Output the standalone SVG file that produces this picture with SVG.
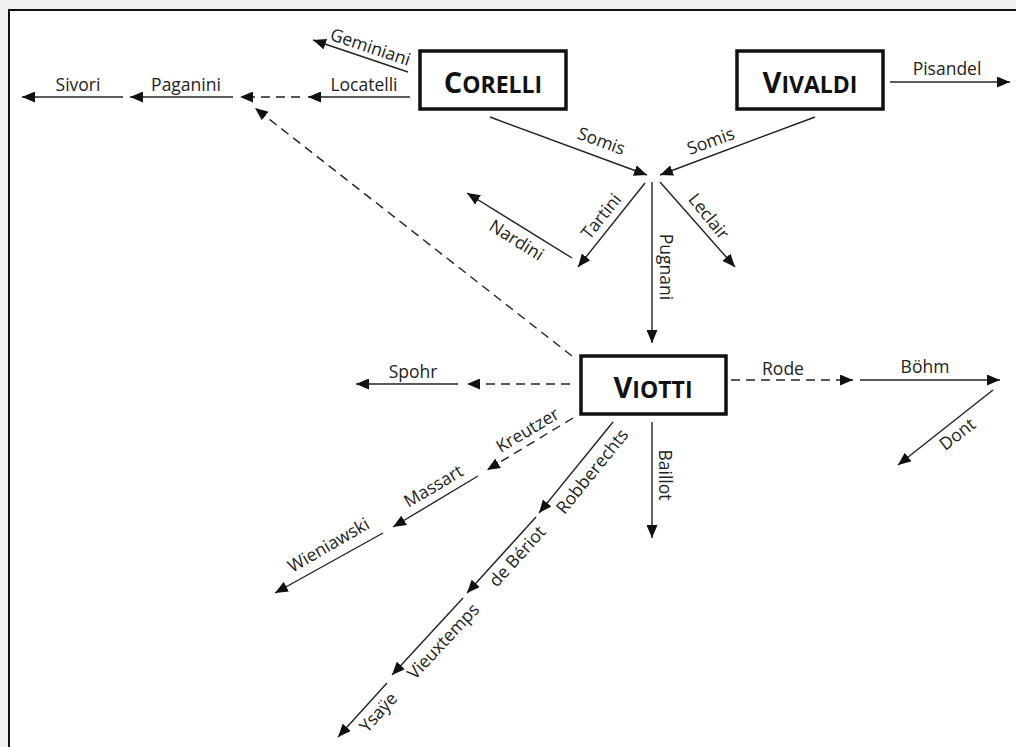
<svg xmlns="http://www.w3.org/2000/svg" width="1016" height="747" viewBox="0 0 1016 747">
<style>
.bg{fill:#f0f0f0}
.frame{fill:#ffffff;stroke:none}
.fl{stroke:#111;stroke-width:2;fill:none}
.box{fill:#ffffff;stroke:#111;stroke-width:3.5}
.title{font-family:"Open Sans","Liberation Sans",sans-serif;font-weight:bold;fill:#111;text-anchor:middle}
.big{font-size:29px}
.sc{font-size:23px}
.ln{stroke:#222;stroke-width:1.4;fill:none;marker-end:url(#ah)}
.dash{stroke-dasharray:9 6}
.lbl{font-family:"Open Sans","Liberation Sans",sans-serif;font-size:17.5px;fill:#222;text-anchor:middle}
</style>
<defs>
<marker id="ah" markerUnits="userSpaceOnUse" markerWidth="13" markerHeight="11" refX="13" refY="5.5" orient="auto">
<path d="M0,0 L13,5.5 L0,11 z" fill="#111"/>
</marker>
</defs>
<rect class="bg" x="0" y="0" width="1016" height="747"/>
<rect class="frame" x="9" y="10" width="1007" height="737"/>
<path class="fl" d="M9,747 L9,10 L1016,10"/>

<g id="connectors">
<line class="ln" x1="408" y1="72" x2="313" y2="40"/>
<line class="ln" x1="410" y1="97" x2="308" y2="97"/>
<line class="ln dash" x1="300" y1="97" x2="240" y2="97"/>
<line class="ln" x1="233" y1="97" x2="130" y2="97"/>
<line class="ln" x1="123" y1="97" x2="22" y2="97"/>
<line class="ln dash" x1="572" y1="356" x2="255" y2="108"/>
<line class="ln" x1="490" y1="117" x2="647" y2="175"/>
<line class="ln" x1="815" y1="117" x2="660" y2="175"/>
<line class="ln" x1="645" y1="183" x2="578" y2="267"/>
<line class="ln" x1="652" y1="182" x2="652" y2="343"/>
<line class="ln" x1="660" y1="182" x2="735" y2="267"/>
<line class="ln" x1="572" y1="258" x2="467" y2="193"/>
<line class="ln" x1="890" y1="82" x2="1010" y2="82"/>
<line class="ln dash" x1="570" y1="384" x2="467" y2="384"/>
<line class="ln" x1="458" y1="384" x2="356" y2="384"/>
<line class="ln dash" x1="731" y1="380" x2="853" y2="380"/>
<line class="ln" x1="860" y1="380" x2="1000" y2="380"/>
<line class="ln" x1="993" y1="390" x2="898" y2="465"/>
<line class="ln dash" x1="573" y1="418" x2="487" y2="470"/>
<line class="ln" x1="478" y1="476" x2="393" y2="527"/>
<line class="ln" x1="383" y1="533" x2="275" y2="593"/>
<line class="ln" x1="613" y1="422" x2="539" y2="513"/>
<line class="ln" x1="536" y1="517" x2="467" y2="593"/>
<line class="ln" x1="463" y1="598" x2="392" y2="675"/>
<line class="ln" x1="387" y1="683" x2="338" y2="737"/>
<line class="ln" x1="652" y1="422" x2="652" y2="538"/>
</g>

<g id="edge-labels">
<text class="lbl" transform="translate(370 48) rotate(18.6)" y="5">Geminiani</text>
<text class="lbl" x="364" y="91">Locatelli</text>
<text class="lbl" x="186" y="91">Paganini</text>
<text class="lbl" x="78" y="91">Sivori</text>
<text class="lbl" transform="translate(601 142) rotate(20)" y="5">Somis</text>
<text class="lbl" transform="translate(711 142) rotate(-20)" y="5">Somis</text>
<text class="lbl" transform="translate(602 217) rotate(-51)" y="5">Tartini</text>
<text class="lbl" transform="translate(708 217) rotate(51)" y="5">Leclair</text>
<text class="lbl" transform="translate(665 267) rotate(90)" y="5">Pugnani</text>
<text class="lbl" transform="translate(516 241) rotate(32)" y="5">Nardini</text>
<text class="lbl" x="947" y="75">Pisandel</text>
<text class="lbl" x="413" y="378">Spohr</text>
<text class="lbl" x="783" y="375">Rode</text>
<text class="lbl" x="925" y="373">Böhm</text>
<text class="lbl" transform="translate(958 435) rotate(-38)" y="5">Dont</text>
<text class="lbl" transform="translate(528 431) rotate(-31)" y="5">Kreutzer</text>
<text class="lbl" transform="translate(434 487) rotate(-31)" y="5">Massart</text>
<text class="lbl" transform="translate(329 546) rotate(-30)" y="5">Wieniawski</text>
<text class="lbl" transform="translate(593 472) rotate(-51)" y="5">Robberechts</text>
<text class="lbl" transform="translate(518 557) rotate(-48)" y="5">de Bériot</text>
<text class="lbl" transform="translate(664 475) rotate(90)" y="5">Baillot</text>
<text class="lbl" transform="translate(444 642) rotate(-47)" y="5">Vieuxtemps</text>
<text class="lbl" transform="translate(379 713) rotate(-48)" y="5">Ysaÿe</text>
</g>

<g id="node-corelli">
<rect class="box" x="420" y="51" width="146" height="58"/>
<text class="title" x="493" y="93"><tspan class="big">C</tspan><tspan class="sc">ORELLI</tspan></text>
</g>
<g id="node-vivaldi">
<rect class="box" x="737" y="51" width="146" height="58"/>
<text class="title" x="810" y="93"><tspan class="big">V</tspan><tspan class="sc">IVALDI</tspan></text>
</g>
<g id="node-viotti">
<rect class="box" x="581" y="356" width="145" height="58"/>
<text class="title" x="653" y="398"><tspan class="big">V</tspan><tspan class="sc">IOTTI</tspan></text>
</g>
</svg>
